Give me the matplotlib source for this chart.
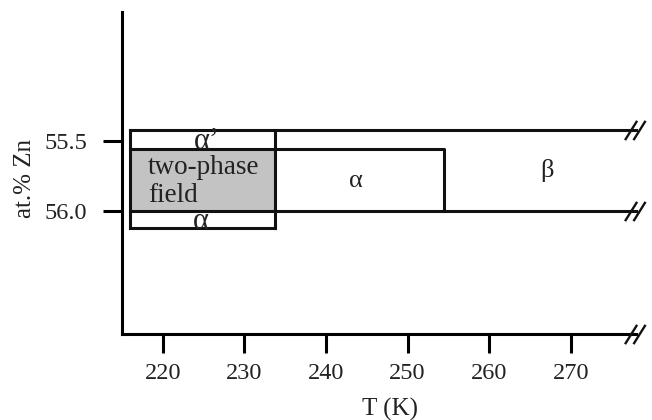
import matplotlib.pyplot as plt
from matplotlib.path import Path

plt.rcParams['font.family'] = ['Liberation Serif', 'DejaVu Serif']

# phase boundaries (T in K, composition in at.% Zn)
T_start = 216.0
T_two_phase = 233.8
T_alpha = 254.5
T_end = 278.0
c_top = 55.42
c_mid = 55.56
c_56 = 56.0
c_bot = 56.12

x_ticks = [220, 230, 240, 250, 260, 270]
y_ticks = [55.5, 56.0]
y_ticklabels = ['55.5', '56.0']

phase_labels = ["\u03b1\u2019", "two-phase\nfield", "\u03b1", "\u03b2", "\u03b1"]
label_T = [225.4, 218.2, 243.6, 267.1, 224.7]
label_c = [55.505, 55.79, 55.786, 55.71, 56.075]
label_size = [22, 19.5, 19, 19, 22]

txt = '#222222'
fs = 17.5

fig = plt.figure(figsize=[6.52, 4.2], dpi=100)
ax = fig.add_axes([0.187, 0.205, 0.795, 0.766])

ax.set_xlim(215, 278.5)
ax.set_ylim(56.88, 54.58)

# grey two-phase field
ax.fill_between([T_start, T_two_phase], c_mid, c_56, color='#c3c3c3', zorder=1)

lw = 2.2
k = '#111111'
# long lines to the break
ax.plot([T_start, T_end], [c_top, c_top], color=k, lw=lw, zorder=2)
ax.plot([T_start, T_end], [c_56, c_56], color=k, lw=lw, zorder=2)
# alpha region
ax.plot([T_start, T_alpha, T_alpha], [c_mid, c_mid, c_56], color=k, lw=lw, zorder=2)
# small boxes
ax.plot([T_start, T_start], [c_top, c_bot], color=k, lw=lw, zorder=2)
ax.plot([T_two_phase, T_two_phase], [c_top, c_bot], color=k, lw=lw, zorder=2)
ax.plot([T_start, T_two_phase], [c_bot, c_bot], color=k, lw=lw, zorder=2)

# axis break marks
brk = Path([(-9.5, -8), (0.5, 8), (-2.5, -8), (7.5, 8)],
           [Path.MOVETO, Path.LINETO, Path.MOVETO, Path.LINETO])
ax.plot([T_end] * 3, [c_top, c_56, 56.88], ls='none', marker=brk,
        markersize=16.5, markerfacecolor='none', markeredgecolor=k,
        markeredgewidth=1.7, clip_on=False, zorder=3)

for s, t, c, sz in zip(phase_labels, label_T, label_c, label_size):
    two = '\n' in s
    ax.text(t, c, s, ha='left' if two else 'center', va='center',
            fontsize=sz, color=txt, linespacing=1.12, zorder=4)

ax.spines['top'].set_visible(False)
ax.spines['right'].set_visible(False)
ax.spines['left'].set_linewidth(2.2)
ax.spines['bottom'].set_linewidth(2.2)
ax.spines['bottom'].set_bounds(215, T_end)

ax.set_xticks(x_ticks)
ax.set_yticks(y_ticks)
ax.set_yticklabels(y_ticklabels)
ax.tick_params(axis='both', direction='out', length=14, width=2.2,
               labelsize=fs, labelcolor=txt)
ax.tick_params(axis='x', pad=7)
ax.tick_params(axis='y', pad=11)

ax.set_xlabel('T (K)', fontsize=18, color=txt)
ax.set_ylabel('at.% Zn', fontsize=18, color=txt)
ax.xaxis.set_label_coords(0.517, -0.2)
ax.yaxis.set_label_coords(-0.165, 0.484)

plt.savefig('out.png')
